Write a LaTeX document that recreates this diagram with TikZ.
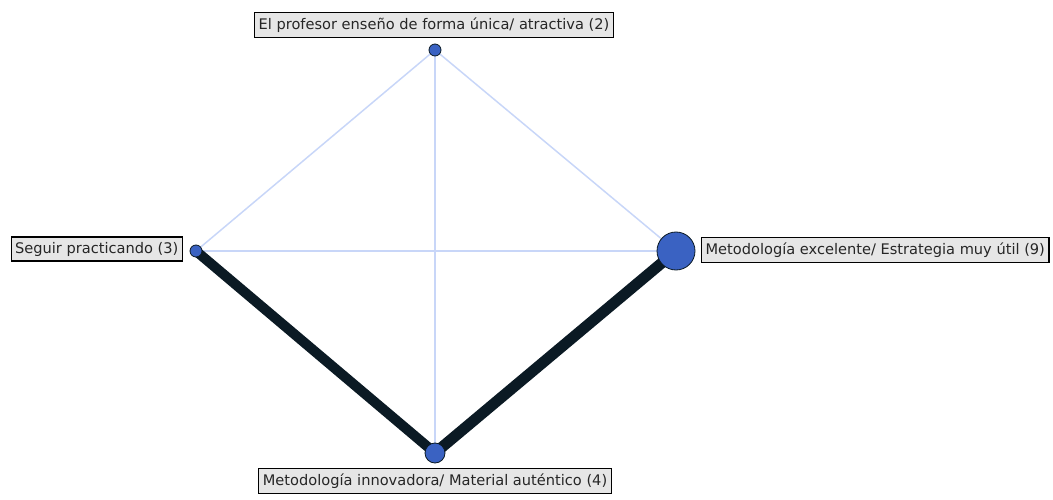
\documentclass[tikz,border=0pt]{standalone}
\usepackage{fontspec}
\setmainfont{DejaVu Sans}
\definecolor{nodeblue}{HTML}{3A62C2}
\definecolor{edgelight}{HTML}{C8D6F8}
\definecolor{edgedark}{HTML}{0B1A24}
\definecolor{labelfill}{HTML}{E6E6E6}
\begin{document}
\begin{tikzpicture}[x=1pt,y=-1pt,
  vert/.style={circle,draw=edgedark,fill=nodeblue,line width=0.8pt,inner sep=0pt},
  lab/.style={draw=black,line width=1.2pt,fill=labelfill,inner xsep=4pt,inner ysep=5pt,font=\fontsize{14.6}{16}\selectfont,text=black!85},
  weak/.style={draw=edgelight,line width=1.5pt},
  strong/.style={draw=edgedark,line width=10pt}]
\useasboundingbox (0,0) rectangle (1053,500);
\coordinate (ct) at (435,50);
\coordinate (cl) at (196,251);
\coordinate (cr) at (676,251);
\coordinate (cb) at (435,453);
\draw[weak] (ct) -- (cl);
\draw[weak] (ct) -- (cr);
\draw[weak] (ct) -- (cb);
\draw[weak] (cl) -- (cr);
\draw[strong] (cl) -- (cb);
\draw[strong,line width=11pt] (cr) -- (cb);
\node[vert,minimum size=12pt] (t) at (ct) {};
\node[vert,minimum size=12pt] (l) at (cl) {};
\node[vert,minimum size=38pt] (r) at (cr) {};
\node[vert,minimum size=20pt] (b) at (cb) {};
\node[lab] (tl) at (434,25) {El profesor enseño de forma única/ atractiva (2)};
\node[lab,anchor=east] (ll) at (183,249) {Seguir practicando (3)};
\node[lab,anchor=west] (rl) at (701,250) {Metodología excelente/ Estrategia muy útil (9)};
\node[lab] (bl) at (435,481) {Metodología innovadora/ Material auténtico (4)};
\end{tikzpicture}
\end{document}
